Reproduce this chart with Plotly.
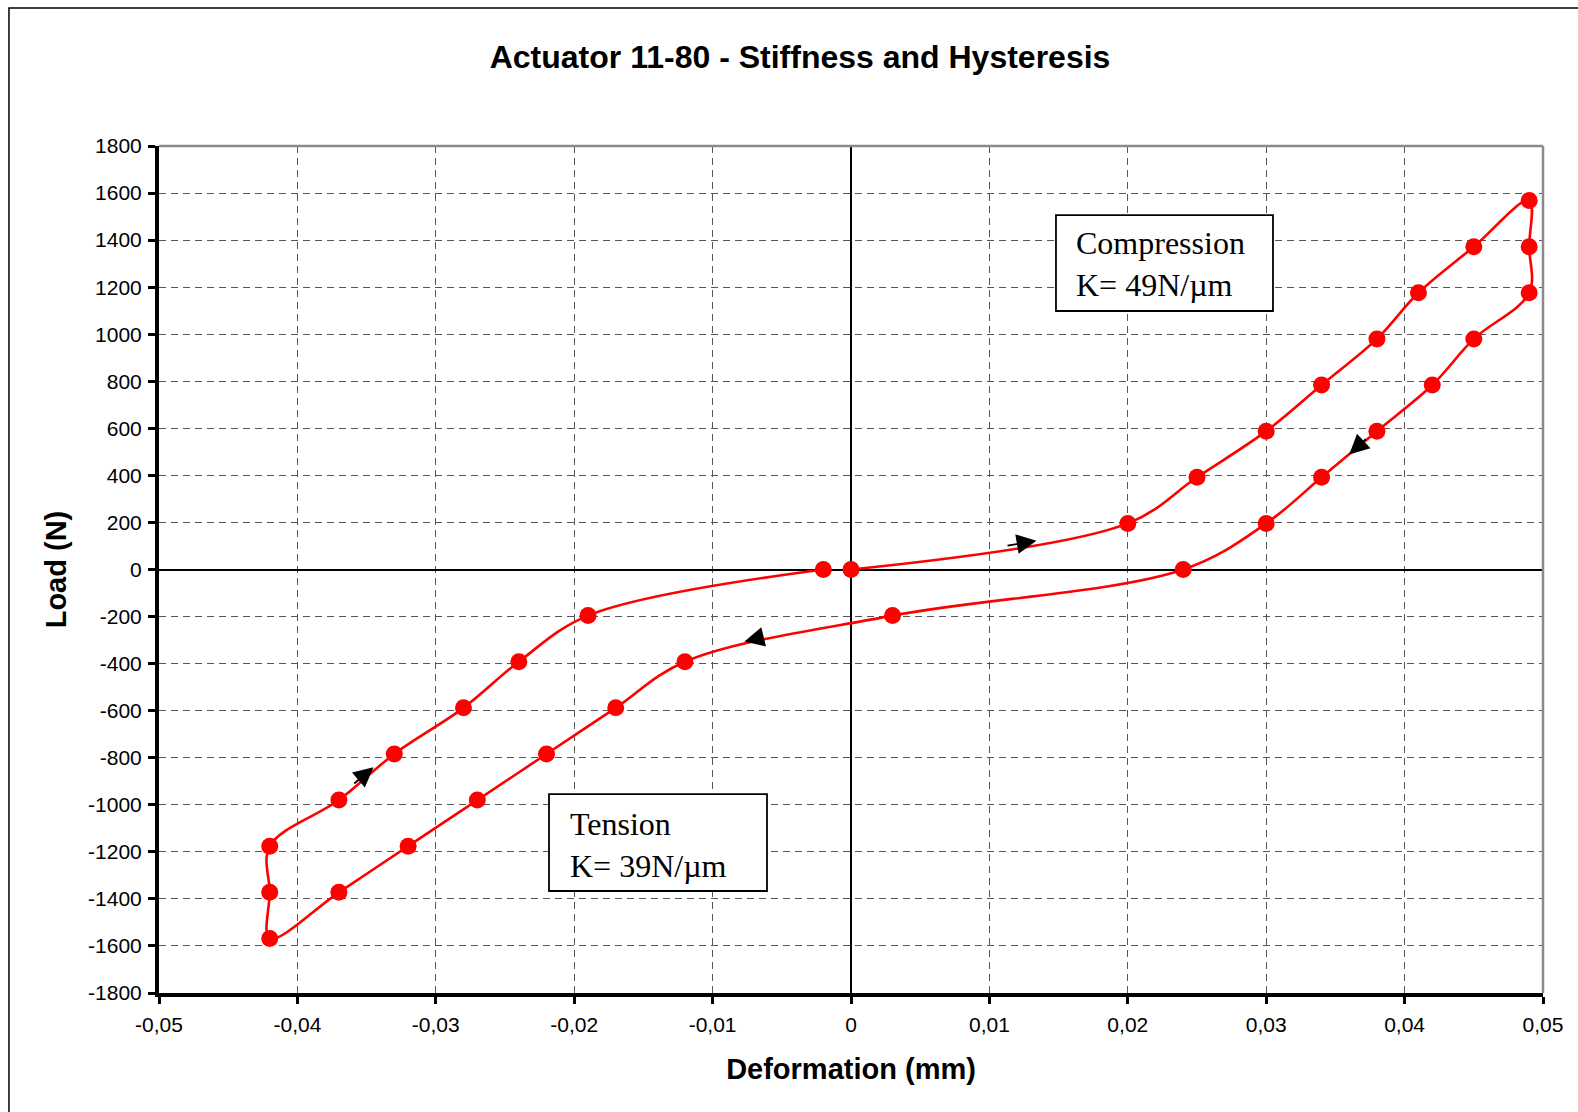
import plotly.graph_objects as go

# Hysteresis loop: deformation (mm) vs applied load (N), in measurement order
deformation_mm = [0.000, 0.020, 0.025, 0.030, 0.034, 0.038, 0.041, 0.045, 0.049,
                  0.049, 0.049, 0.045, 0.042, 0.038, 0.034, 0.030, 0.024,
                  0.003, -0.012, -0.017, -0.022, -0.027, -0.032, -0.037, -0.042,
                  -0.042, -0.042, -0.037, -0.033, -0.028, -0.024, -0.019, -0.002]
load_n = [0, 196, 392, 588, 784, 980, 1176, 1372, 1568,
          1372, 1176, 980, 784, 588, 392, 196, 0,
          -196, -392, -588, -784, -980, -1176, -1372, -1568,
          -1372, -1176, -980, -784, -588, -392, -196, 0]

x_ticks = [-0.05, -0.04, -0.03, -0.02, -0.01, 0, 0.01, 0.02, 0.03, 0.04, 0.05]
x_tick_labels = ["-0,05", "-0,04", "-0,03", "-0,02", "-0,01", "0",
                 "0,01", "0,02", "0,03", "0,04", "0,05"]
y_ticks = list(range(-1800, 1801, 200))
y_tick_labels = [str(v) for v in y_ticks]

# Direction arrows along the loop: (tail_x, tail_y, head_x, head_y)
direction_arrows = [
    (0.0112, 100, 0.0134, 122),
    (0.0373, 560, 0.0360, 489),
    (-0.0063, -286, -0.0077, -306),
    (-0.0360, -915, -0.0345, -840),
]

RED = "#FF0000"
TICK_FONT = dict(family="Liberation Sans, Arial", size=21, color="black")
LABEL_FONT = dict(family="Liberation Sans, Arial", size=29, color="black")
SERIF_FONT = dict(family="Liberation Serif, Times New Roman", size=32, color="black")

fig = go.Figure()
fig.add_trace(go.Scatter(
    x=deformation_mm, y=load_n, mode="lines+markers",
    line=dict(color=RED, width=2.6, shape="spline", smoothing=1.0),
    marker=dict(color=RED, size=17),
    showlegend=False, hoverinfo="x+y",
))

annotations = []
for tx, ty, hx, hy in direction_arrows:
    annotations.append(dict(
        x=hx, y=hy, ax=tx, ay=ty, xref="x", yref="y", axref="x", ayref="y",
        text="", showarrow=True, arrowhead=2, arrowsize=2.2, arrowwidth=1.8,
        arrowcolor="black",
    ))

annotations.append(dict(
    x=0.6611, y=0.8607, xref="paper", yref="paper", xanchor="left", yanchor="middle",
    align="left", showarrow=False, text="Compression<br>K= 49N/µm", font=SERIF_FONT,
))
annotations.append(dict(
    x=0.2955, y=0.1747, xref="paper", yref="paper", xanchor="left", yanchor="middle",
    align="left", showarrow=False, text="Tension<br>K= 39N/µm", font=SERIF_FONT,
))

shapes = [
    # outer chart frame
    dict(type="rect", xref="paper", yref="paper", x0=-0.1084, y0=-0.4, x1=1.3, y1=1.1629,
         line=dict(color="black", width=1.5), layer="below"),
    # top and right plot border
    dict(type="line", xref="paper", yref="paper", x0=0, x1=1, y0=1, y1=1,
         line=dict(color="#8a8a8a", width=2.5)),
    dict(type="line", xref="paper", yref="paper", x0=1, x1=1, y0=0, y1=1,
         line=dict(color="#8a8a8a", width=2.5)),
    # text boxes
    dict(type="rect", xref="paper", yref="paper", x0=0.6481, x1=0.8049, y0=0.8052, y1=0.9185,
         line=dict(color="black", width=1.8), fillcolor="white", layer="above"),
    dict(type="rect", xref="paper", yref="paper", x0=0.2818, x1=0.4393, y0=0.1204, y1=0.2349,
         line=dict(color="black", width=1.8), fillcolor="white", layer="above"),
]

axis_common = dict(
    showgrid=True, gridcolor="#555555", gridwidth=1, griddash="7px,5px",
    zeroline=True, zerolinecolor="black", zerolinewidth=2,
    showline=True, linecolor="black", linewidth=4,
    ticks="outside", ticklen=7, tickwidth=3, tickcolor="black",
    tickfont=TICK_FONT,
)

fig.update_layout(
    width=1578, height=1112,
    margin=dict(l=159, r=35, t=146, b=119),
    paper_bgcolor="white", plot_bgcolor="white",
    title=dict(text="<b>Actuator 11-80 - Stiffness and Hysteresis</b>",
               x=0.507, xref="container", xanchor="center",
               y=1 - 57 / 1112, yref="container", yanchor="middle",
               font=dict(family="Liberation Sans, Arial", size=32, color="black")),
    xaxis=dict(range=[-0.05, 0.05], tickvals=x_ticks, ticktext=x_tick_labels,
               title=dict(text="<b>Deformation (mm)</b>", font=LABEL_FONT, standoff=24),
               ticklabelstandoff=3, **axis_common),
    yaxis=dict(range=[-1800, 1800], tickvals=y_ticks, ticktext=y_tick_labels,
               title=dict(text="<b>Load (N)</b>", font=LABEL_FONT, standoff=14),
               ticklabelstandoff=2, **axis_common),
    annotations=annotations,
    shapes=shapes,
)

fig.write_html("out.html")
